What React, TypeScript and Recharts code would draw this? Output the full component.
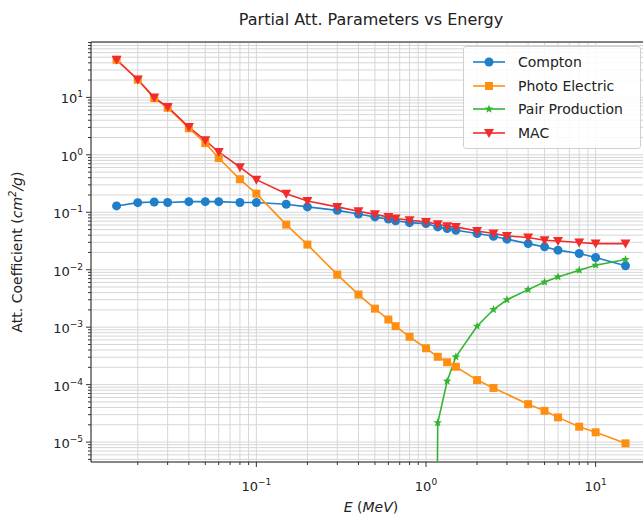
import React from 'react';
import { LineChart, Line, XAxis, YAxis, CartesianGrid, Legend, ReferenceArea } from 'recharts';

// photon energies (MeV)
const ENERGY = [0.015, 0.02, 0.025, 0.03, 0.04, 0.05, 0.06, 0.08, 0.1, 0.15, 0.2, 0.3, 0.4, 0.5, 0.6, 0.662, 0.8, 1.0, 1.173, 1.333, 1.5, 2, 2.5, 3, 4, 5, 6, 8, 10, 15];

const COMPTON = [0.129, 0.147, 0.151, 0.148, 0.153, 0.153, 0.153, 0.148, 0.148, 0.138, 0.124, 0.108, 0.093, 0.083, 0.076, 0.071, 0.066, 0.0635, 0.0556, 0.052, 0.0486, 0.0426, 0.0382, 0.034, 0.0285, 0.025, 0.0219, 0.0192, 0.0163, 0.0117];
const PHOTO = [45, 20.3, 9.7, 6.6, 2.9, 1.6, 0.88, 0.375, 0.211, 0.061, 0.0274, 0.0082, 0.0037, 0.0021, 0.00136, 0.00104, 0.00068, 0.00043, 0.000305, 0.000245, 0.000205, 0.00012, 0.0000875, null, 0.0000457, 0.000035, 0.0000269, 0.0000185, 0.0000148, 0.0000095];
const PAIR = [null, null, null, null, null, null, null, null, null, null, null, null, null, null, null, null, null, 0, 0.0000217, 0.000115, 0.000305, 0.00104, 0.00203, 0.003, 0.0045, 0.0061, 0.0075, 0.0098, 0.012, 0.0151];
const MAC = [45.2, 20.5, 9.9, 6.8, 3.05, 1.79, 1.12, 0.61, 0.37, 0.21, 0.157, 0.124, 0.104, 0.092, 0.083, 0.078, 0.0726, 0.068, 0.062, 0.057, 0.0556, 0.0473, 0.0426, 0.0388, 0.0363, 0.0326, 0.0316, 0.0297, 0.0285, 0.0285];

const X_TICKS = [0.02, 0.03, 0.04, 0.05, 0.06, 0.07, 0.08, 0.09, 0.1, 0.2, 0.3, 0.4, 0.5, 0.6, 0.7, 0.8, 0.9, 1, 2, 3, 4, 5, 6, 7, 8, 9, 10, 20];
const Y_TICKS = [
  5e-6, 6e-6, 7e-6, 8e-6, 9e-6,
  1e-5, 2e-5, 3e-5, 4e-5, 5e-5, 6e-5, 7e-5, 8e-5, 9e-5,
  1e-4, 2e-4, 3e-4, 4e-4, 5e-4, 6e-4, 7e-4, 8e-4, 9e-4,
  1e-3, 2e-3, 3e-3, 4e-3, 5e-3, 6e-3, 7e-3, 8e-3, 9e-3,
  1e-2, 2e-2, 3e-2, 4e-2, 5e-2, 6e-2, 7e-2, 8e-2, 9e-2,
  0.1, 0.2, 0.3, 0.4, 0.5, 0.6, 0.7, 0.8, 0.9,
  1, 2, 3, 4, 5, 6, 7, 8, 9,
  10, 20, 30, 40, 50, 60, 70, 80, 90,
];
const X_DOMAIN = [0.0106, 21.2];
const Y_DOMAIN = [4.5e-6, 92];

const FONT = '"DejaVu Sans", sans-serif';
const BLUE = '#1f7fc8';
const ORANGE = '#ff8f12';
const GREEN = '#33b533';
const RED = '#f22b2b';

const SERIES = [
  { key: 'compton', name: 'Compton', color: BLUE, shape: 'circle' },
  { key: 'photo', name: 'Photo Electric', color: ORANGE, shape: 'square' },
  { key: 'pair', name: 'Pair Production', color: GREEN, shape: 'star' },
  { key: 'mac', name: 'MAC', color: RED, shape: 'tri' },
];

// log axis can't show 0, use a tiny stand-in so the line drops off the bottom
const rows = ENERGY.map((e, i) => ({
  e,
  compton: COMPTON[i],
  photo: PHOTO[i],
  pair: PAIR[i] === 0 ? 1e-30 : PAIR[i],
  mac: MAC[i],
}));

const isMajor = (v: number) => Math.abs(Math.log10(v) - Math.round(Math.log10(v))) < 1e-9;
const expLabel = (v: number) => {
  const p = Math.round(Math.log10(v));
  return p < 0 ? '\u2212' + Math.abs(p) : String(p);
};

function Marker({ cx, cy, shape, color }: any) {
  if (shape === 'circle') return <circle cx={cx} cy={cy} r={4.5} fill={color} />;
  if (shape === 'square') return <rect x={cx - 4} y={cy - 4} width={8} height={8} fill={color} />;
  if (shape === 'tri')
    return <polygon points={`${cx - 5},${cy - 4} ${cx + 5},${cy - 4} ${cx},${cy + 5}`} fill={color} />;
  const pts: string[] = [];
  for (let k = 0; k < 10; k++) {
    const r = k % 2 === 0 ? 4.5 : 1.9;
    const a = -Math.PI / 2 + (k * Math.PI) / 5;
    pts.push(`${cx + r * Math.cos(a)},${cy + r * Math.sin(a)}`);
  }
  return <polygon points={pts.join(' ')} fill={color} />;
}

const makeDot = (shape: string, color: string) => (p: any) => {
  if (p.value == null || p.cy == null || !isFinite(p.cy)) return <g key={`d-${p.index}`} />;
  return <Marker key={`d-${p.index}`} cx={p.cx} cy={p.cy} shape={shape} color={color} />;
};

function XTick({ x, y, payload }: any) {
  const v = payload.value;
  const major = isMajor(v);
  return (
    <g>
      <line x1={x} x2={x} y1={y} y2={y + (major ? 5 : 3)} stroke="#333" />
      {major && (
        <text x={x} y={y + 29} textAnchor="middle" fontFamily={FONT} fontSize={13} fill="#222">
          <tspan>10</tspan>
          <tspan dy={-6} fontSize={9}>{expLabel(v)}</tspan>
        </text>
      )}
    </g>
  );
}

function YTick({ x, y, payload }: any) {
  const v = payload.value;
  const major = isMajor(v);
  return (
    <g>
      <line x1={x} x2={x - (major ? 5 : 3)} y1={y} y2={y} stroke="#333" />
      {major && (
        <text x={x - 8} y={y + 6} textAnchor="end" fontFamily={FONT} fontSize={13} fill="#222">
          <tspan>10</tspan>
          <tspan dy={-6} fontSize={9}>{expLabel(v)}</tspan>
        </text>
      )}
    </g>
  );
}

function LegendBox() {
  return (
    <div
      style={{
        background: 'rgba(255,255,255,0.85)',
        border: '1px solid #d0d0d0',
        borderRadius: 3,
        padding: '3px 8px',
        fontFamily: FONT,
        fontSize: 14,
        color: '#222',
      }}
    >
      {SERIES.map((s) => (
        <div key={s.key} style={{ display: 'flex', alignItems: 'center', height: 23.7 }}>
          <svg width={34} height={14}>
            <line x1={1} x2={33} y1={7} y2={7} stroke={s.color} strokeWidth={1.6} />
            <Marker cx={17} cy={7} shape={s.shape} color={s.color} />
          </svg>
          <span style={{ marginLeft: 12, whiteSpace: 'nowrap' }}>{s.name}</span>
        </div>
      ))}
    </div>
  );
}

function YLabel({ viewBox }: any) {
  const cx = viewBox.x + viewBox.width - 69;
  const cy = viewBox.y + viewBox.height / 2;
  return (
    <text transform={`translate(${cx},${cy}) rotate(-90)`} textAnchor="middle" fontFamily={FONT} fontSize={14} fill="#222">
      <tspan>Att. Coefficient (</tspan>
      <tspan fontStyle="italic">cm</tspan>
      <tspan fontStyle="italic" fontSize={10} dy={-6}>2</tspan>
      <tspan fontStyle="italic" dy={6}>/g</tspan>
      <tspan>)</tspan>
    </text>
  );
}

function XLabel({ viewBox }: any) {
  return (
    <text x={viewBox.x + viewBox.width / 2} y={viewBox.y + 50} textAnchor="middle" fontFamily={FONT} fontSize={14} fill="#222">
      <tspan fontStyle="italic">E</tspan>
      <tspan> (</tspan>
      <tspan fontStyle="italic">MeV</tspan>
      <tspan>)</tspan>
    </text>
  );
}

export default function App() {
  return (
    <div style={{ position: 'absolute', left: 0, top: 0, width: 643, height: 518, overflow: 'hidden', background: '#fff' }}>
      <div
        style={{
          position: 'absolute',
          top: 10,
          left: 371,
          transform: 'translateX(-50%)',
          fontFamily: FONT,
          fontSize: 16,
          color: '#222',
          whiteSpace: 'nowrap',
          zIndex: 2,
        }}
      >
        Partial Att. Parameters vs Energy
      </div>
      <LineChart width={680} height={518} data={rows} margin={{ top: 42, right: 29, bottom: 26, left: 31 }}>
        <CartesianGrid stroke="#d6d6d6" strokeWidth={1} />
        <XAxis
          dataKey="e"
          type="number"
          scale="log"
          domain={X_DOMAIN}
          allowDataOverflow
          ticks={X_TICKS}
          interval={0}
          tickSize={0}
          tickMargin={0}
          tickLine={false}
          axisLine={false}
          height={30}
          tick={<XTick />}
          label={(p: any) => <XLabel {...p} />}
        />
        <YAxis
          type="number"
          scale="log"
          domain={Y_DOMAIN}
          allowDataOverflow
          ticks={Y_TICKS}
          interval={0}
          tickSize={0}
          tickMargin={0}
          tickLine={false}
          axisLine={false}
          width={60}
          tick={<YTick />}
          label={(p: any) => <YLabel {...p} />}
        />
        <ReferenceArea x1={X_DOMAIN[0]} x2={X_DOMAIN[1]} y1={Y_DOMAIN[0]} y2={Y_DOMAIN[1]} fill="none" fillOpacity={0} stroke="#222" strokeWidth={1} />
        {SERIES.map((s) => (
          <Line
            key={s.key}
            dataKey={s.key}
            name={s.name}
            stroke={s.color}
            strokeWidth={1.6}
            connectNulls
            dot={makeDot(s.shape, s.color)}
            activeDot={false}
            isAnimationActive={false}
          />
        ))}
        <Legend
          layout="horizontal"
          verticalAlign="middle"
          align="center"
          wrapperStyle={{ left: 463, top: 46, width: 178 }}
          content={() => <LegendBox />}
        />
      </LineChart>
    </div>
  );
}
